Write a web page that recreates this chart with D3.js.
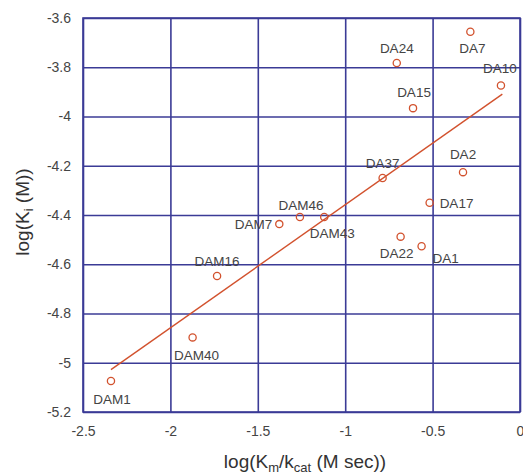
<!DOCTYPE html>
<html>
<head>
<meta charset="utf-8">
<script src="https://cdn.jsdelivr.net/npm/d3@7"></script>
<style>
  body { margin: 0; background: #fff; }
  text { font-family: "Liberation Sans", Arial, sans-serif; }
</style>
</head>
<body>
<div id="chart"></div>
<script>
// Data
const names = ["DAM1", "DAM40", "DAM16", "DAM7", "DAM46", "DAM43", "DA37", "DA2", "DA17", "DA22", "DA1", "DA24", "DA7", "DA10", "DA15"];
const logKm = [-2.34, -1.873, -1.733, -1.377, -1.259, -1.12, -0.786, -0.326, -0.517, -0.683, -0.563, -0.705, -0.284, -0.109, -0.612];
const logKi = [-5.074, -4.897, -4.648, -4.437, -4.408, -4.408, -4.25, -4.226, -4.35, -4.488, -4.527, -3.783, -3.656, -3.874, -3.966];
// label placement: [dx, dy, anchor]
const labelPos = [
    [1, 18, "middle"], [4, 18, "middle"], [0, -15, "middle"], [-7, 0, "end"],
    [1, -12, "middle"], [8, 16, "middle"], [0, -15, "middle"], [0, -18, "middle"],
    [10, 1, "start"], [-4, 17, "middle"], [24, 12, "middle"], [0, -15, "middle"],
    [2, 16, "middle"], [-1, -17, "middle"], [1, -16, "middle"]
];
const trendX = [-2.34, -0.101];
const trendY = [-5.028, -3.909];
const xTicks = [-2.5, -2, -1.5, -1, -0.5, 0];
const yTicks = [-5.2, -5, -4.8, -4.6, -4.4, -4.2, -4, -3.8, -3.6];

const dataset = names.map((n, i) => ({ name: n, x: logKm[i], y: logKi[i], pos: labelPos[i] }));

// Dimensions
let dimensions = {
    width: 523,
    height: 474,
    margin: { top: 18, right: 3, bottom: 62, left: 83 }
};
dimensions.containerWidth = dimensions.width - dimensions.margin.left - dimensions.margin.right;
dimensions.containerHeight = dimensions.height - dimensions.margin.top - dimensions.margin.bottom;

const svg = d3.select("#chart")
    .append("svg")
    .attr("width", dimensions.width)
    .attr("height", dimensions.height);

const container = svg.append("g")
    .attr("transform", `translate(${dimensions.margin.left}, ${dimensions.margin.top})`);

// Scales
const xScale = d3.scaleLinear()
    .domain([-2.5, 0])
    .range([0, dimensions.containerWidth]);

const yScale = d3.scaleLinear()
    .domain([-5.2, -3.6])
    .range([dimensions.containerHeight, 0]);

const gridColor = "#3b3b96";
const red = "#d2522e";

// Grid
const xAxis = d3.axisBottom(xScale)
    .tickValues(xTicks)
    .tickSize(-dimensions.containerHeight)
    .tickPadding(14)
    .tickFormat(d => d);

const xAxisGroup = container.append("g")
    .attr("transform", `translate(0, ${dimensions.containerHeight})`)
    .call(xAxis);

const yAxis = d3.axisLeft(yScale)
    .tickValues(yTicks)
    .tickSize(-dimensions.containerWidth)
    .tickPadding(12)
    .tickFormat(d => d);

const yAxisGroup = container.append("g")
    .call(yAxis);

[xAxisGroup, yAxisGroup].forEach(g => {
    g.select(".domain").remove();
    g.selectAll(".tick line")
        .attr("stroke", gridColor)
        .attr("stroke-width", 1.6);
    g.selectAll(".tick text")
        .attr("fill", "#444")
        .style("font-size", "14px");
});

container.append("rect")
    .attr("width", dimensions.containerWidth)
    .attr("height", dimensions.containerHeight)
    .attr("fill", "none")
    .attr("stroke", gridColor)
    .attr("stroke-width", 1.6);

// Trend line
container.append("line")
    .attr("x1", xScale(trendX[0]))
    .attr("y1", yScale(trendY[0]))
    .attr("x2", xScale(trendX[1]))
    .attr("y2", yScale(trendY[1]))
    .attr("stroke", red)
    .attr("stroke-width", 1.4);

// Points
container.selectAll("circle.pt")
    .data(dataset)
    .join("circle")
        .attr("class", "pt")
        .attr("r", 3.6)
        .attr("fill", "none")
        .attr("stroke", red)
        .attr("stroke-width", 1.3)
        .attr("cx", d => xScale(d.x))
        .attr("cy", d => yScale(d.y));

// Labels
container.selectAll("text.lbl")
    .data(dataset)
    .join("text")
        .attr("class", "lbl")
        .attr("x", d => xScale(d.x) + d.pos[0])
        .attr("y", d => yScale(d.y) + d.pos[1])
        .attr("dy", "0.35em")
        .attr("text-anchor", d => d.pos[2])
        .attr("fill", "#444")
        .style("font-size", "13.5px")
        .text(d => d.name);

// Axis titles
const xTitle = svg.append("text")
    .attr("x", 305)
    .attr("y", 468)
    .attr("text-anchor", "middle")
    .attr("fill", "#333")
    .style("font-size", "19px");
xTitle.append("tspan").text("log(K");
xTitle.append("tspan").attr("dy", 4).style("font-size", "13px").text("m");
xTitle.append("tspan").attr("dy", -4).text("/k");
xTitle.append("tspan").attr("dy", 4).style("font-size", "13px").text("cat");
xTitle.append("tspan").attr("dy", -4).text(" (M sec))");

const yTitle = svg.append("text")
    .attr("transform", "translate(29, 212) rotate(-90)")
    .attr("text-anchor", "middle")
    .attr("fill", "#333")
    .style("font-size", "19px");
yTitle.append("tspan").text("log(K");
yTitle.append("tspan").attr("dy", 4).style("font-size", "13px").text("i");
yTitle.append("tspan").attr("dy", -4).text(" (M))");
</script>
</body>
</html>
